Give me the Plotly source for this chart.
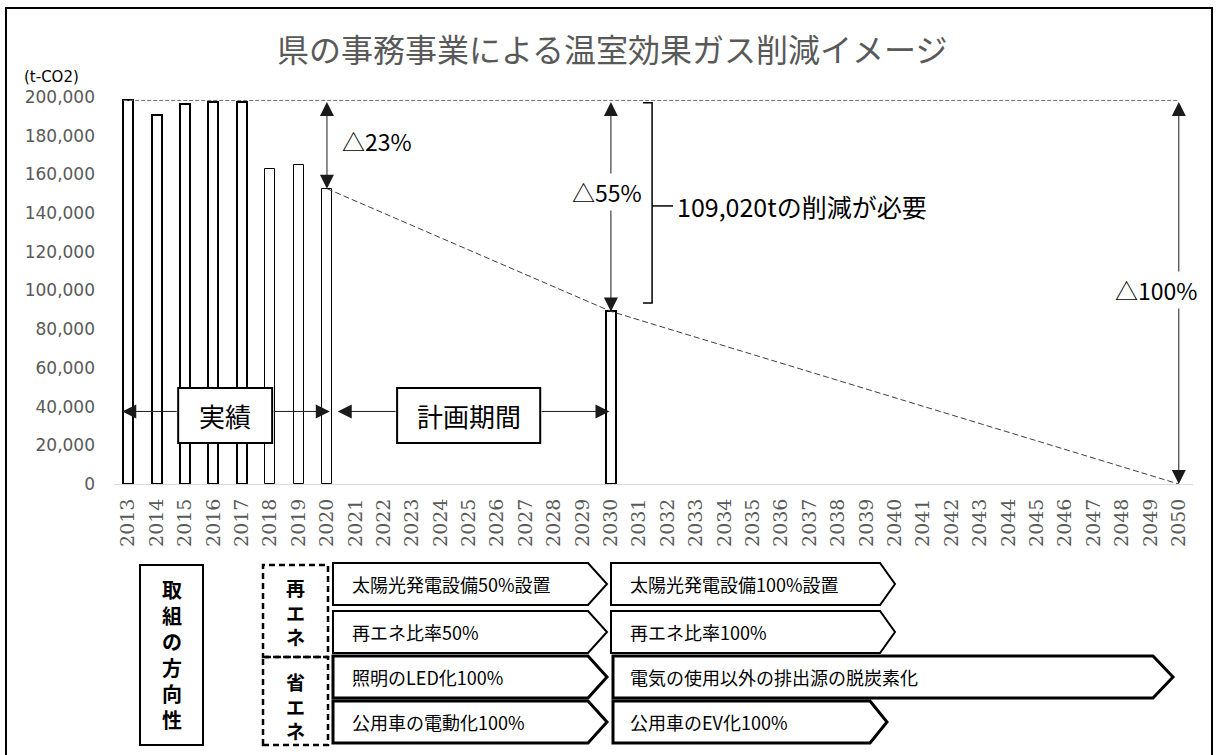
import plotly.graph_objects as go

# ---------------- data ----------------
years = list(range(2013, 2051))
actual_years = [2013, 2014, 2015, 2016, 2017, 2018, 2019, 2020]
actual_values = [198218, 190800, 196500, 197600, 197600, 162800, 165000, 152628]
target_years = [2030]
target_values = [89198]
path_years = [2020, 2030, 2050]
path_values = [152628, 89198, 0]
y_ticks = [0, 20000, 40000, 60000, 80000, 100000, 120000, 140000, 160000, 180000, 200000]
reduction_labels = ["△23%", "△55%", "△100%"]
required_label = "109,020tの削減が必要"
period_labels = ["実績", "計画期間"]
title_text = "県の事務事業による温室効果ガス削減イメージ"
unit_text = "(t-CO2)"
policy_title = "取組の方向性"
group_labels = ["再エネ", "省エネ"]
col1_items = ["太陽光発電設備50%設置", "再エネ比率50%", "照明のLED化100%", "公用車の電動化100%"]
col2_items = ["太陽光発電設備100%設置", "再エネ比率100%", "電気の使用以外の排出源の脱炭素化", "公用車のEV化100%"]

base = actual_values[0]
v2020 = actual_values[-1]
v2030 = target_values[0]

# ---------------- geometry helpers ----------------
W, H = 1216, 755
L, R, T, B = 114, 1193, 97, 484
PW, PH = R - L, B - T


def px(x):
    return (x - L) / PW


def py(y):
    return (B - y) / PH


JP = "Noto Sans CJK JP"
GRAY = "#595959"

fig = go.Figure()

bar_w = 0.35
fig.add_trace(go.Bar(
    x=actual_years + target_years,
    y=actual_values + target_values,
    width=bar_w,
    marker=dict(color="white",
                line=dict(color="black", width=[2, 2, 2, 2, 2, 1, 1, 1, 2])),
    hoverinfo="skip", showlegend=False,
))

# baseline dashed line
fig.add_trace(go.Scatter(
    x=[years[0] - bar_w / 2, years[-1]], y=[base, base], mode="lines",
    line=dict(color="#6f6f6f", width=1, dash="4px,2px"),
    hoverinfo="skip", showlegend=False,
))
# projection dashed line
fig.add_trace(go.Scatter(
    x=path_years, y=path_values, mode="lines",
    line=dict(color="#404040", width=1, dash="6px,3px"),
    hoverinfo="skip", showlegend=False,
))

ann = []
shapes = []


def txt(x, y, text, size, color="black", xref="x", yref="y", xanchor="center", bg=None, family=JP):
    d = dict(x=x, y=y, xref=xref, yref=yref, text=text, showarrow=False,
             xanchor=xanchor, yanchor="middle", font=dict(family=family, size=size, color=color))
    if bg:
        d["bgcolor"] = bg
    ann.append(d)


def darrow(x, y0, y1):
    ann.append(dict(x=x, y=y0, ax=x, ay=y1, xref="x", yref="y", axref="x", ayref="y",
                    text="", showarrow=True, arrowside="end+start",
                    arrowhead=2, startarrowhead=2, arrowsize=2.8, startarrowsize=2.8,
                    arrowwidth=1, arrowcolor="#1a1a1a"))


def sarrow(x_tip, x_from, y):
    ann.append(dict(x=x_tip, y=y, ax=x_from, ay=y, xref="x", yref="y", axref="x", ayref="y",
                    text="", showarrow=True, arrowhead=2, arrowsize=2.8,
                    arrowwidth=1, arrowcolor="#1a1a1a"))


# reduction arrows
darrow(2020, v2020, base)
txt(2020.45, 177300, reduction_labels[0], 23, xanchor="left")
darrow(2030, v2030, base)
txt(2029.86, 151000, reduction_labels[1], 23, bg="white")
darrow(2050, 0, base)
txt(2049.2, 100300, reduction_labels[2], 23, bg="white")

# bracket
mid = (base + v2030) / 2
shapes.append(dict(type="path", xref="x", yref="y",
                   path=f"M 2031.13,{base - 1200} L 2031.45,{base - 1200} L 2031.45,{v2030 + 4400} L 2031.13,{v2030 + 4400}",
                   line=dict(color="black", width=1.5)))
shapes.append(dict(type="line", xref="x", yref="y", x0=2031.45, x1=2032.19, y0=mid, y1=mid,
                   line=dict(color="black", width=1.5)))
txt(2032.25, mid, required_label, 25, xanchor="left")

# period boxes
arrow_y = 37500
box_y0, box_y1 = 21200, 49650
shapes.append(dict(type="rect", xref="x", yref="y", x0=2014.76, x1=2018.07, y0=box_y0, y1=box_y1,
                   fillcolor="white", line=dict(color="black", width=2), layer="above"))
txt((2014.76 + 2018.07) / 2, (box_y0 + box_y1) / 2, period_labels[0], 26)
sarrow(2012.79, 2014.76, arrow_y)
sarrow(2020.1, 2018.07, arrow_y)

shapes.append(dict(type="rect", xref="x", yref="y", x0=2022.47, x1=2027.51, y0=box_y0, y1=box_y1,
                   fillcolor="white", line=dict(color="black", width=2), layer="above"))
txt((2022.47 + 2027.51) / 2, (box_y0 + box_y1) / 2, period_labels[1], 26)
sarrow(2020.38, 2022.47, arrow_y)
sarrow(2029.95, 2027.51, arrow_y)

# title and unit
txt(px(612), py(48), title_text, 32, color=GRAY, xref="paper", yref="paper")
txt(px(22), py(77), unit_text, 15, xref="paper", yref="paper", xanchor="left", family="DejaVu Sans")


# ---------------- bottom policy table ----------------
def prect(x0, x1, y0, y1, dash="solid", width=2):
    shapes.append(dict(type="rect", xref="paper", yref="paper", x0=px(x0), x1=px(x1),
                       y0=py(y1), y1=py(y0), line=dict(color="black", width=width, dash=dash),
                       fillcolor="rgba(0,0,0,0)"))


def vtext(xc, yc, s, size):
    txt(px(xc), py(yc), "<br>".join(f"<b>{c}</b>" for c in s), size, xref="paper", yref="paper")


prect(140, 203, 565, 745)
vtext(172, 654, policy_title, 20)

prect(263, 328, 565, 657, dash="6px,4px", width=2.5)
prect(263, 328, 657, 745, dash="6px,4px", width=2.5)
vtext(295, 612, group_labels[0], 19)
vtext(295, 706, group_labels[1], 19)


def pent(x0, xs, xt, y0, y1, width=2):
    ym = (y0 + y1) / 2
    p = (f"M {px(x0)},{py(y0)} L {px(xs)},{py(y0)} L {px(xt)},{py(ym)} "
         f"L {px(xs)},{py(y1)} L {px(x0)},{py(y1)} Z")
    shapes.append(dict(type="path", xref="paper", yref="paper", path=p,
                       line=dict(color="black", width=width), fillcolor="white"))


rows = [(563, 605), (611, 653), (656, 698), (701, 743)]
col2_ends = [(880, 895), (880, 895), (1153, 1173), (870, 887)]
for i, (y0, y1) in enumerate(rows):
    w = 3 if i >= 2 else 2
    pent(333, 588, 607, y0, y1, width=w)
    x0c2 = 611 if i < 2 else 613
    pent(x0c2, col2_ends[i][0], col2_ends[i][1], y0, y1, width=w)
    txt(px(350), py((y0 + y1) / 2), col1_items[i], 18, xref="paper", yref="paper", xanchor="left")
    txt(px(628), py((y0 + y1) / 2), col2_items[i], 18, xref="paper", yref="paper", xanchor="left")

# outer frame
shapes.append(dict(type="rect", xref="paper", yref="paper", x0=px(6), x1=px(1212), y0=py(770), y1=py(8),
                   line=dict(color="black", width=2), fillcolor="rgba(0,0,0,0)"))

fig.update_layout(
    width=W, height=H,
    margin=dict(l=L, r=W - R, t=T, b=H - B, pad=0),
    paper_bgcolor="white", plot_bgcolor="white",
    showlegend=False,
    xaxis=dict(range=[2012.5, 2050.5], tickmode="array", tickvals=years, ticktext=[str(y) for y in years],
               tickangle=-90, showgrid=False, zeroline=False, showline=True, linecolor="#d9d9d9",
               linewidth=1, ticks="", ticklabelstandoff=6,
               tickfont=dict(family="DejaVu Serif", size=19, color=GRAY)),
    yaxis=dict(range=[0, 200000], tickmode="array", tickvals=y_ticks, tickformat=",d",
               showgrid=False, zeroline=False, showline=False, ticks="", ticklabelstandoff=18,
               tickfont=dict(family="DejaVu Sans", size=17, color=GRAY)),
    annotations=ann, shapes=shapes,
    bargap=0,
)

fig.write_html("out.html", config={"displayModeBar": False},
               post_script="document.body.style.margin='0';")
